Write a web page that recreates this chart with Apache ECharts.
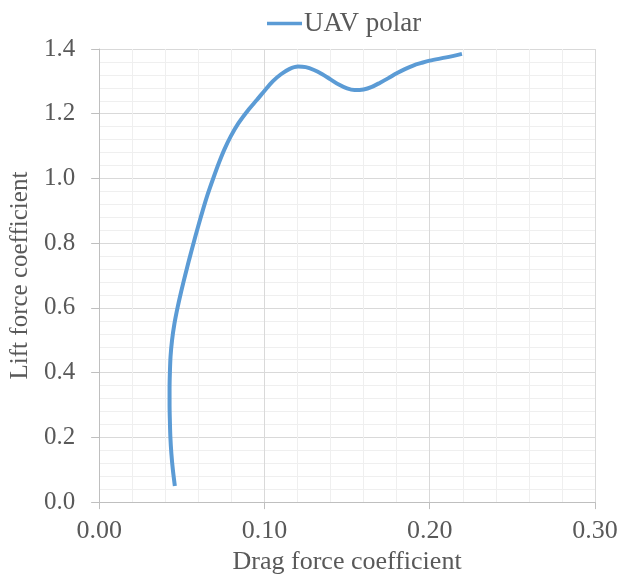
<!DOCTYPE html>
<html>
<head>
<meta charset="utf-8">
<script src="https://cdn.jsdelivr.net/npm/echarts@6/dist/echarts.min.js"></script>
<style>html,body{margin:0;padding:0;background:#fff;}#c{width:631px;height:580px;}</style>
</head>
<body>
<div id="c"></div>
<script>
var seriesName = 'UAV polar';
var dragCoef = [0.0458, 0.0446, 0.0437, 0.0431, 0.0428, 0.0426, 0.0426, 0.0428, 0.0432, 0.0441, 0.0455, 0.0474, 0.0496, 0.0520, 0.0545, 0.0571, 0.0598, 0.0626, 0.0656, 0.0690, 0.0726, 0.0758, 0.0796, 0.0842, 0.0900, 0.0955, 0.1002, 0.1050, 0.1100, 0.1150, 0.1203, 0.1250, 0.1300, 0.1350, 0.1400, 0.1450, 0.1500, 0.1545, 0.1600, 0.1650, 0.1700, 0.1750, 0.1800, 0.1850, 0.1900, 0.1950, 0.2000, 0.2100, 0.2195];
var liftCoef = [0.05, 0.10, 0.15, 0.20, 0.25, 0.30, 0.35, 0.40, 0.45, 0.50, 0.55, 0.60, 0.65, 0.70, 0.75, 0.80, 0.85, 0.90, 0.95, 1.00, 1.05, 1.09, 1.13, 1.17, 1.21, 1.243, 1.272, 1.300, 1.322, 1.338, 1.346, 1.344, 1.335, 1.322, 1.306, 1.290, 1.278, 1.273, 1.275, 1.283, 1.296, 1.310, 1.325, 1.338, 1.349, 1.357, 1.364, 1.374, 1.385];
var xTicks = ['0.00', '0.10', '0.20', '0.30'];
var yTicks = ['0.0', '0.2', '0.4', '0.6', '0.8', '1.0', '1.2', '1.4'];

var pts = dragCoef.map(function (x, i) { return [x, liftCoef[i]]; });
var font = 'Liberation Serif';
var chart = echarts.init(document.getElementById('c'), null, {renderer: 'canvas'});
chart.setOption({
  backgroundColor: '#ffffff',
  animation: false,
  legend: {
    left: 262, top: 5,
    icon: 'rect', itemWidth: 35, itemHeight: 3.5, itemGap: 10,
    textStyle: {fontFamily: font, fontSize: 27, color: '#595959', padding: [0, 0, 0, -3]},
    data: [seriesName]
  },
  grid: {left: 97, right: 36, top: 49, bottom: 77, containLabel: false},
  xAxis: {
    type: 'value', min: 0, max: 0.3, interval: 0.1,
    name: 'Drag force coefficient', nameLocation: 'middle', nameGap: 45,
    nameTextStyle: {fontFamily: font, fontSize: 26, color: '#595959'},
    axisLine: {show: true, lineStyle: {color: '#bfbfbf', width: 1}},
    axisTick: {show: true, length: 7, lineStyle: {color: '#bfbfbf'}},
    axisLabel: {fontFamily: font, fontSize: 26, color: '#595959', margin: 16,
      formatter: function (v) { return xTicks[Math.round(v / 0.1)]; }},
    splitLine: {show: true, lineStyle: {color: '#d9d9d9', width: 1}},
    minorTick: {show: false, splitNumber: 5},
    minorSplitLine: {show: true, lineStyle: {color: '#efefef', width: 1}}
  },
  yAxis: {
    type: 'value', min: 0, max: 1.4, interval: 0.2,
    name: 'Lift force coefficient', nameLocation: 'middle', nameGap: 58,
    nameTextStyle: {fontFamily: font, fontSize: 25, color: '#595959'},
    axisLine: {show: true, lineStyle: {color: '#bfbfbf', width: 1}},
    axisTick: {show: true, length: 8, lineStyle: {color: '#bfbfbf'}},
    axisLabel: {fontFamily: font, fontSize: 25, color: '#595959', margin: 24,
      formatter: function (v) { return yTicks[Math.round(v / 0.2)]; }},
    splitLine: {show: true, lineStyle: {color: '#d9d9d9', width: 1}},
    minorTick: {show: false, splitNumber: 5},
    minorSplitLine: {show: true, lineStyle: {color: '#efefef', width: 1}}
  },
  series: [{
    name: seriesName, type: 'line', data: pts,
    smooth: 0.3, symbol: 'none', showSymbol: false,
    lineStyle: {color: '#5b9bd5', width: 4},
    itemStyle: {color: '#5b9bd5'}
  }]
});
</script>
</body>
</html>
